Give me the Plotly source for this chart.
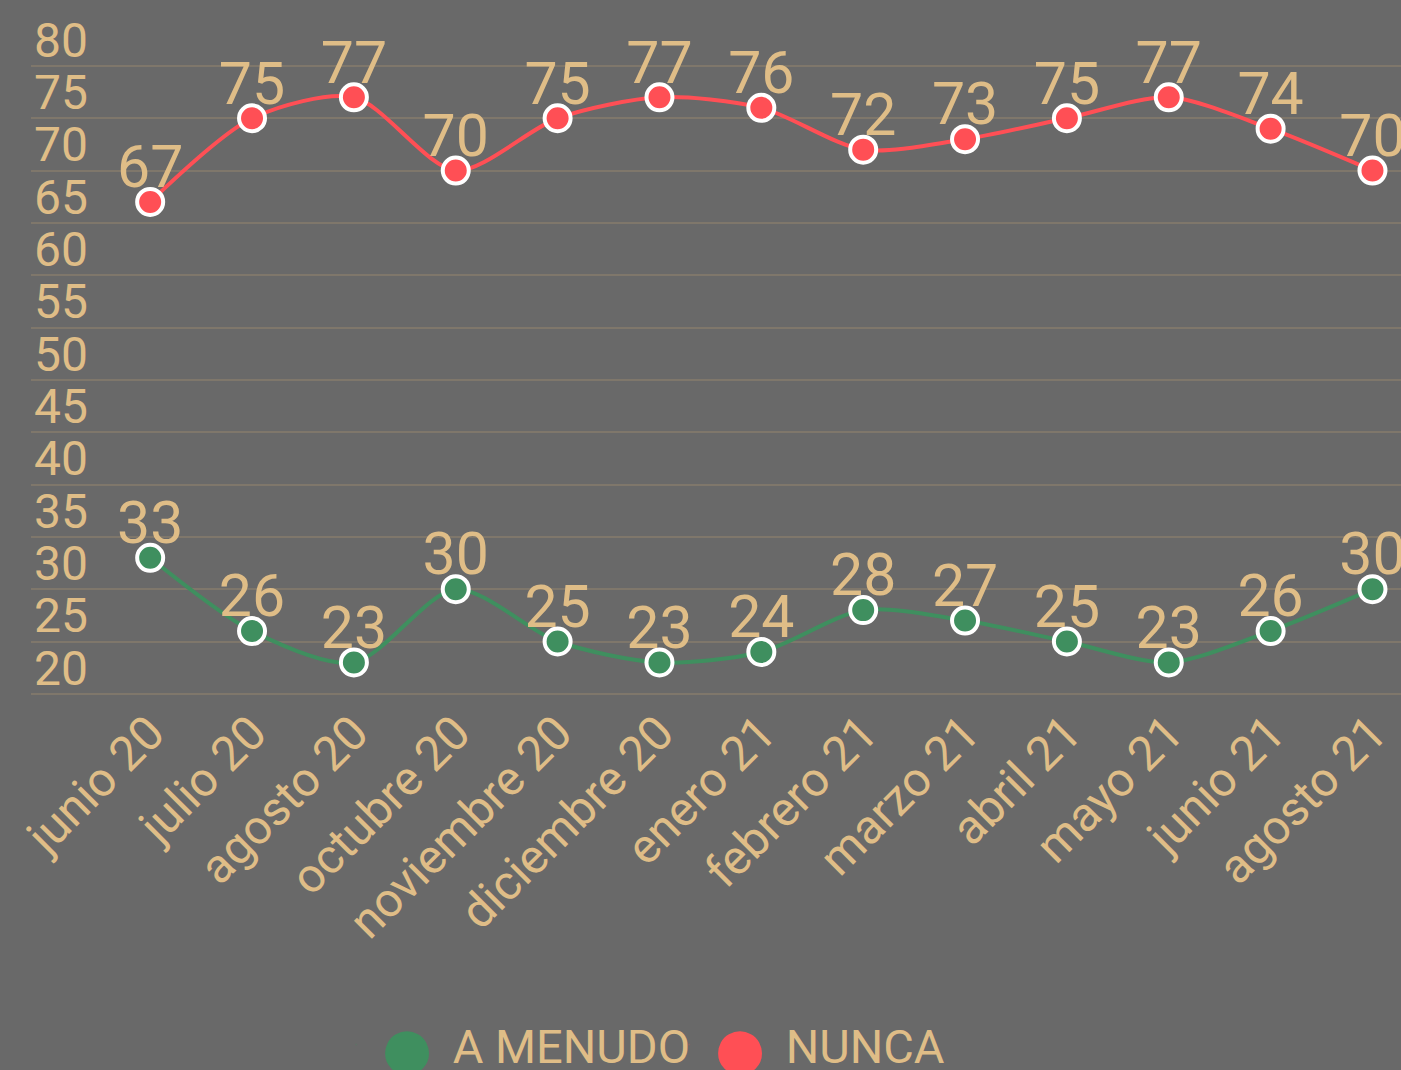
import plotly.graph_objects as go

categories = ["junio 20", "julio 20", "agosto 20", "octubre 20", "noviembre 20", "diciembre 20",
              "enero 21", "febrero 21", "marzo 21", "abril 21", "mayo 21", "junio 21", "agosto 21"]
a_menudo = [33, 26, 23, 30, 25, 23, 24, 28, 27, 25, 23, 26, 30]
nunca = [67, 75, 77, 70, 75, 77, 76, 72, 73, 75, 77, 74, 70]
y_ticks = [20, 25, 30, 35, 40, 45, 50, 55, 60, 65, 70, 75, 80]

TEXT = "#dfbd87"
GREEN = "#3f8f5f"
RED = "#ff4f55"
BG = "#696969"
GRID = "#7f776b"
FONT = "Roboto"

x_idx = list(range(len(categories)))
Y_MIN, Y_MAX = 17.5, 86.3

fig = go.Figure()
for name, vals, col in [("A MENUDO", a_menudo, GREEN), ("NUNCA", nunca, RED)]:
    fig.add_trace(go.Scatter(
        x=x_idx, y=vals, name=name, mode="lines+markers",
        line=dict(color=col, width=4, shape="spline", smoothing=0.8),
        marker=dict(color=col, size=26, line=dict(color="white", width=4)),
        cliponaxis=False, showlegend=False, hoverinfo="x+y",
    ))
for name, vals in [("A MENUDO", a_menudo), ("NUNCA", nunca)]:
    fig.add_trace(go.Scatter(
        x=x_idx, y=vals, mode="text",
        text=[str(v) for v in vals], textposition="top center",
        textfont=dict(family=FONT, size=59, color=TEXT),
        cliponaxis=False, showlegend=False, hoverinfo="skip",
    ))
# legend entries (big dot drawn as a glyph in the label)
for name, col in [("A MENUDO", GREEN), ("NUNCA", RED)]:
    fig.add_trace(go.Scatter(
        x=[None], y=[None], mode="markers",
        marker=dict(color=col, size=1, opacity=0),
        name=(f'<span style="font-size:102px;color:{col};baseline-shift:-19px">●</span>'
              f'<span style="font-size:60px"> </span>{name}'),
        showlegend=True,
    ))

fig.update_layout(
    width=1401, height=1070,
    paper_bgcolor=BG, plot_bgcolor=BG,
    margin=dict(l=31, r=0, t=0, b=350, autoexpand=False),
    font=dict(family=FONT, color=TEXT),
    showlegend=True,
    legend=dict(orientation="h", xref="container", x=0.240, xanchor="left",
                y=0.0235, yanchor="middle", yref="container",
                font=dict(family=FONT, size=47, color=TEXT),
                itemwidth=30, entrywidth=288, entrywidthmode="pixels",
                bgcolor="rgba(0,0,0,0)"),
    xaxis=dict(range=[-1.17, 12.28], tickmode="array", tickvals=x_idx, ticktext=categories,
               tickangle=-45, tickfont=dict(family=FONT, size=48, color=TEXT),
               anchor="free", position=(20 - Y_MIN) / (Y_MAX - Y_MIN),
               showgrid=False, zeroline=False, showline=False, ticks=""),
    yaxis=dict(range=[Y_MIN, Y_MAX], tickmode="array", tickvals=y_ticks,
               ticktext=[str(v) for v in y_ticks],
               tickfont=dict(family=FONT, size=48, color=TEXT),
               ticklabelposition="inside", ticklabelshift=-26,
               showgrid=True, gridcolor=GRID, gridwidth=2,
               zeroline=False, showline=False, ticks=""),
)

fig.write_html("out.html", post_script="document.body.style.margin='0';",
               config={"displayModeBar": False})
